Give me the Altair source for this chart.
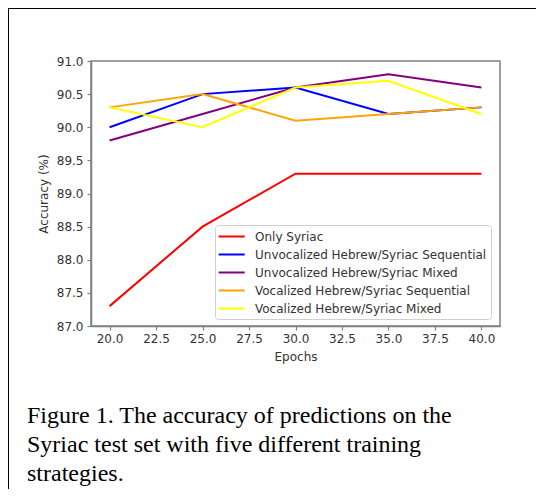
import altair as alt
import pandas as pd

epochs = [20, 25, 30, 35, 40]
series_names = [
    "Only Syriac",
    "Unvocalized Hebrew/Syriac Sequential",
    "Unvocalized Hebrew/Syriac Mixed",
    "Vocalized Hebrew/Syriac Sequential",
    "Vocalized Hebrew/Syriac Mixed",
]
only_syriac = [87.3, 88.5, 89.3, 89.3, 89.3]
unvoc_seq = [90.0, 90.5, 90.6, 90.2, 90.3]
unvoc_mixed = [89.8, 90.2, 90.6, 90.8, 90.6]
voc_seq = [90.3, 90.5, 90.1, 90.2, 90.3]
voc_mixed = [90.3, 90.0, 90.6, 90.7, 90.2]
line_colors = ["#ff0000", "#0000ff", "#800080", "#ffa500", "#ffff00"]
x_ticks = [20.0, 22.5, 25.0, 27.5, 30.0, 32.5, 35.0, 37.5, 40.0]
y_ticks = [87.0, 87.5, 88.0, 88.5, 89.0, 89.5, 90.0, 90.5, 91.0]
caption = [
    "Figure 1. The accuracy of predictions on the",
    "Syriac test set with five different training",
    "strategies.",
]

all_series = [only_syriac, unvoc_seq, unvoc_mixed, voc_seq, voc_mixed]
rows = []
for name, vals in zip(series_names, all_series):
    for e, v in zip(epochs, vals):
        rows.append({"Series": name, "Epochs": e, "Accuracy": v})
df = pd.DataFrame(rows)

W, H = 409, 265
PL, PT, PR, PB = 83, 53, 36, 163

lines = alt.Chart(df).mark_line(strokeWidth=2).encode(
    x=alt.X("Epochs:Q",
            scale=alt.Scale(domain=[19, 41], nice=False, zero=False),
            axis=alt.Axis(values=x_ticks, format=".1f", title="Epochs", grid=False,
                          tickSize=4, labelPadding=3, titlePadding=7)),
    y=alt.Y("Accuracy:Q",
            scale=alt.Scale(domain=[87, 91], nice=False, zero=False),
            axis=alt.Axis(values=y_ticks, format=".1f", title="Accuracy (%)", grid=False,
                          tickSize=4, labelPadding=4, titlePadding=6)),
    color=alt.Color("Series:N",
                    scale=alt.Scale(domain=series_names, range=line_colors),
                    sort=series_names,
                    legend=alt.Legend(orient="none", legendX=124, legendY=164, title=None,
                                      symbolType="M-1.2,0H2.8", symbolStrokeWidth=2, symbolSize=169,
                                      symbolFillColor="transparent",
                                      labelFontSize=12, labelFont="DejaVu Sans", labelColor="#333333",
                                      labelOffset=21, padding=4, strokeColor="#d0d0d0", fillColor="white",
                                      cornerRadius=3, labelLimit=400, rowPadding=4)),
)

frame_top = alt.Chart(alt.Data(values=[{}])).mark_rule(color="black", strokeWidth=2).encode(
    x=alt.value(-PL), x2=alt.value(W + PR), y=alt.value(-PT)
)
frame_left = alt.Chart(alt.Data(values=[{}])).mark_rule(color="black", strokeWidth=2).encode(
    x=alt.value(-PL), y=alt.value(-PT), y2=alt.value(H + PB)
)
caption_text = alt.Chart(alt.Data(values=[{"t": "\n".join(caption)}])).mark_text(
    align="left", baseline="alphabetic", lineBreak="\n", lineHeight=29,
    font="Liberation Serif", fontSize=24, color="black"
).encode(text="t:N", x=alt.value(-64), y=alt.value(362))

chart = alt.layer(lines, frame_top, frame_left, caption_text).properties(
    width=W, height=H,
    autosize=alt.AutoSizeParams(type="none"),
    padding={"left": PL, "top": PT, "right": PR, "bottom": PB},
    background="white",
).configure_view(stroke="#808080", strokeWidth=1.5).configure_axis(
    domainColor="#808080", domainWidth=1.5, tickColor="#808080", tickWidth=1.2,
    labelFont="DejaVu Sans", labelFontSize=12, labelColor="#333333",
    titleFont="DejaVu Sans", titleFontSize=12, titleColor="#333333", titleFontWeight="normal",
)

chart.save("out.html", embed_options={"renderer": "svg", "actions": False})
